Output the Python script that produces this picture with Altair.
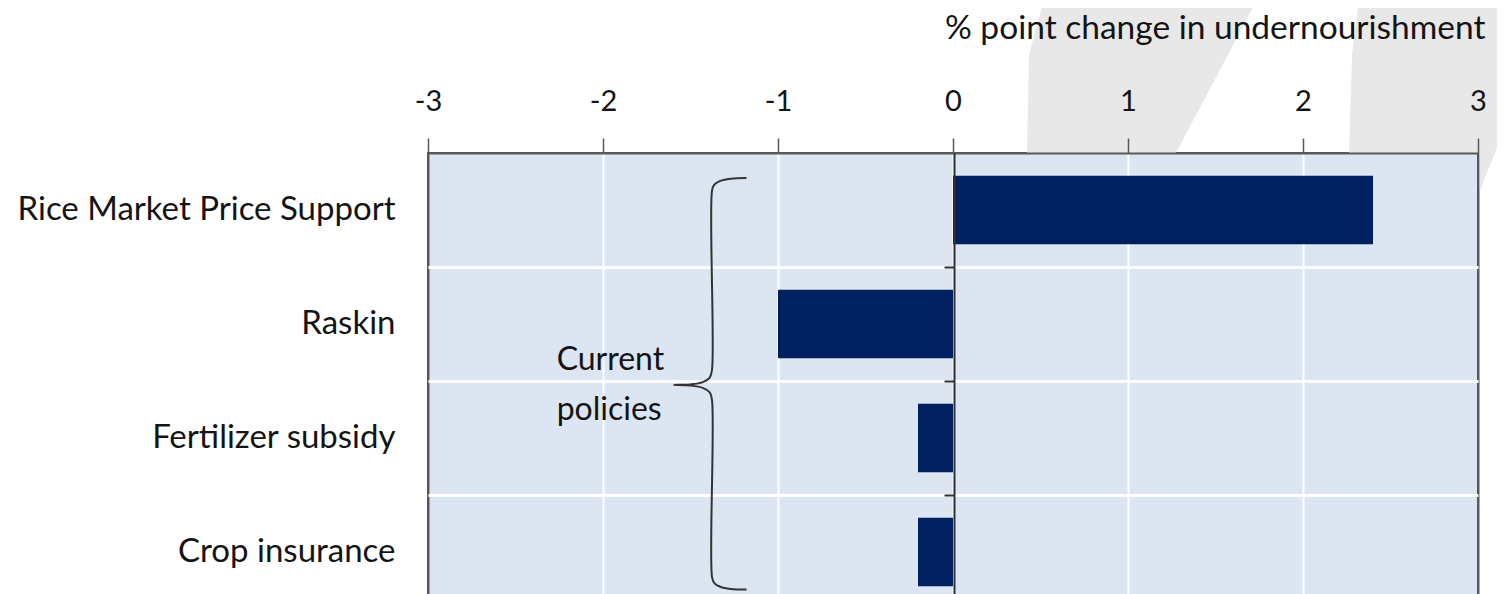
import altair as alt
import pandas as pd

categories = ["Rice Market Price Support", "Raskin", "Fertilizer subsidy", "Crop insurance"]
values = [2.4, -1.0, -0.2, -0.2]

# curly brace annotation (x in data units, y in band units from the top)
brace_x = [-1.18, -1.27, -1.33, -1.365, -1.377, -1.377, -1.39, -1.43, -1.50, -1.594,
           -1.50, -1.43, -1.39, -1.377, -1.377, -1.365, -1.33, -1.27, -1.18]
brace_y = [0.22, 0.225, 0.245, 0.28, 0.33, 1.90, 1.97, 2.01, 2.03, 2.035,
           2.04, 2.06, 2.10, 2.17, 3.72, 3.77, 3.805, 3.825, 3.83]
note_lines = ["Current", "policies"]
note_x = [-2.265, -2.265]
note_y = [1.82, 2.25]
band_edges = [1, 2, 3]
x_ticks = [-3, -2, -1, 0, 1, 2, 3]

# faint grey background watermark shapes (x in data units, y in band units)
wm_id = ["a", "a", "a", "b", "b", "b", "c", "c"]
wm_y = [-1.35, -0.86, 0.0, -1.35, -0.86, 0.0, 0.0, 0.33]
wm_x1 = [0.52, 0.434, 0.423, 2.32, 2.28, 2.263, 3.01, 3.01]
wm_x2 = [1.737, 1.571, 1.274, 3.5, 3.3, 3.097, 3.097, 3.01]

FONT = "Lato"
TXT = "#141414"
BAR = "#002060"

df = pd.DataFrame({"cat": categories, "val": values})
brace = pd.DataFrame({"x": brace_x, "y": brace_y, "i": list(range(len(brace_x)))})
notes = pd.DataFrame({"t": note_lines, "x": note_x, "y": note_y})
wm = pd.DataFrame({"s": wm_id, "y": wm_y, "x1": wm_x1, "x2": wm_x2})

xscale = alt.Scale(domain=[-3, 3], nice=False, zero=False)
yq = alt.Scale(domain=[0, 4], reverse=True, nice=False, zero=False)

# watermark layer also carries the horizontal and vertical white grid lines
watermark = alt.Chart(wm).mark_area(color="#e8e8e8", clip=False, orient="horizontal").encode(
    y=alt.Y("y:Q", scale=yq,
            axis=alt.Axis(orient="right", values=band_edges, labels=False, ticks=False,
                          domain=False, title=None, grid=True, zindex=0,
                          gridColor="#ffffff", gridWidth=3)),
    x=alt.X("x1:Q", scale=xscale,
            axis=alt.Axis(orient="bottom", values=x_ticks, labels=False, ticks=False,
                          domain=False, title=None, grid=True, zindex=0,
                          gridColor={"condition": {"test": "abs(datum.value) == 3", "value": "#595959"},
                                     "value": "#ffffff"},
                          gridWidth=2)),
    x2="x2:Q",
    detail="s:N",
)

bars = alt.Chart(df).mark_bar(color=BAR).encode(
    x=alt.X("val:Q", scale=xscale, axis=None),
    y=alt.Y("cat:N", sort=categories,
            scale=alt.Scale(paddingInner=0.4, paddingOuter=0.2),
            axis=alt.Axis(title=None, labelFont=FONT, labelFontSize=33, labelColor=TXT,
                          labelPadding=33, tickSize=0, ticks=False, domain=False,
                          grid=False, labelLimit=600)),
)

# brace carries the top axis (labels, ticks, title) and the zero line
brace_line = alt.Chart(brace).mark_line(color="#333333", strokeWidth=2,
                                        interpolate="catmull-rom").encode(
    x=alt.X("x:Q", scale=xscale,
            axis=alt.Axis(orient="top", values=x_ticks, zindex=1, grid=False,
                          labelExpr="'' + datum.value", labelFlush=False,
                          title="% point change in undernourishment",
                          titleFont=FONT, titleFontSize=33.5, titleFontWeight="normal",
                          titleColor=TXT, titleAnchor="end", titleAlign="right",
                          titleBaseline="middle", titleX=1057, titleY=-125,
                          labelFont=FONT, labelFontSize=29, labelColor=TXT,
                          labelPadding=22, tickSize=15, tickColor="#595959",
                          tickWidth=1.5, domainColor="#595959", domainWidth=2)),
    y=alt.Y("y:Q", scale=yq,
            axis=alt.Axis(orient="left", offset=-526, values=band_edges,
                          labels=False, title=None, zindex=1, grid=False,
                          domainColor="#303030", domainWidth=2,
                          tickColor="#303030", tickWidth=2, tickSize=10)),
    order="i:Q",
)

note = alt.Chart(notes).mark_text(font=FONT, fontSize=32, color=TXT, align="left",
                                  baseline="middle").encode(
    x=alt.X("x:Q", scale=xscale, axis=None),
    y=alt.Y("y:Q", scale=yq, axis=None),
    text="t:N",
)

chart = alt.layer(watermark, bars, brace_line, note).resolve_scale(
    y="independent").resolve_axis(x="independent").properties(
    width=1050, height=456,
    autosize=alt.AutoSizeParams(type="none"),
    padding={"left": 420, "top": 145, "right": 19, "bottom": 0},
).configure_view(fill="#dce6f2", stroke="#595959", strokeWidth=2)

chart.save("out.html", embed_options={"renderer": "svg", "actions": False})
